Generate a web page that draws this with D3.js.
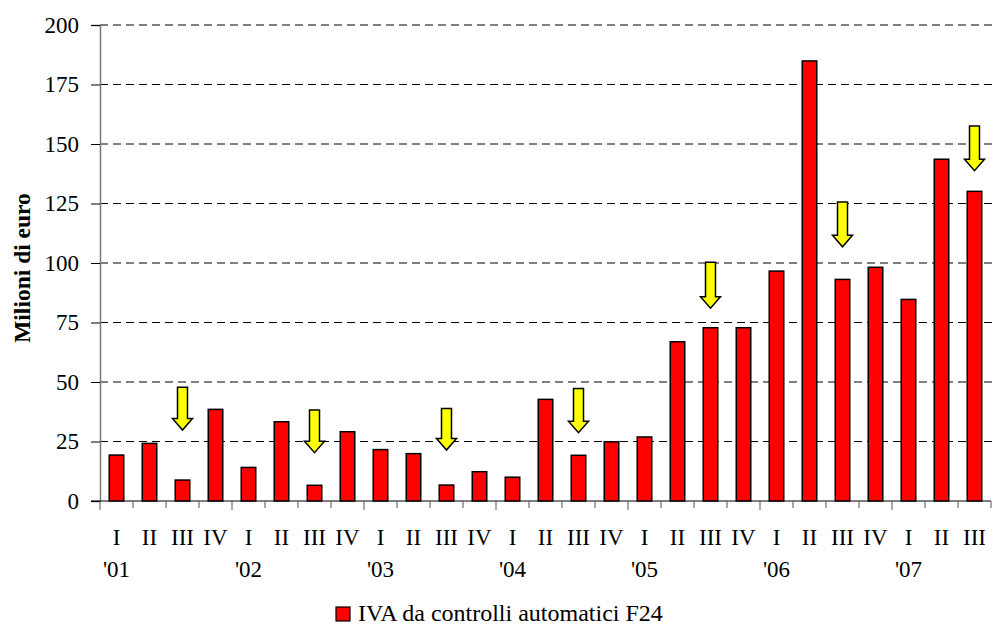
<!DOCTYPE html>
<html>
<head>
<meta charset="utf-8">
<script src="https://cdn.jsdelivr.net/npm/d3@7"></script>
<style>
  body { margin: 0; background: #fff; }
  text { font-family: "Liberation Serif", "Times New Roman", serif; fill: #000; }
</style>
</head>
<body>
<svg id="chart"></svg>
<script>
var w = 993;
var h = 625;

// quarters 2001 Q1 .. 2007 Q3
var quarters = ["I","II","III","IV","I","II","III","IV","I","II","III","IV","I","II","III","IV",
  "I","II","III","IV","I","II","III","IV","I","II","III"];
var years = ["'01","'02","'03","'04","'05","'06","'07"];
var values = [19.3, 24.2, 8.8, 38.5, 14.1, 33.3, 6.6, 29.1, 21.6, 19.9, 6.7, 12.3,
  10, 42.7, 19.2, 24.9, 26.9, 66.9, 72.8, 72.8, 96.6, 184.9, 93.1, 98.2, 84.7, 143.6, 130.1];
var yTicks = [0, 25, 50, 75, 100, 125, 150, 175, 200];

// yellow arrows: category index, top and tip in data units
var arrowIdx = [2, 6, 10, 14, 18, 22, 26];
var arrowTop = [47.8, 38.2, 38.9, 47.3, 100.3, 125.6, 157.6];
var arrowTip = [29.8, 20.3, 21.4, 28.7, 81, 106.8, 138.8];

var legendLabel = "IVA da controlli automatici F24";

var mLeft = 100, mRight = 991, mTop = 25, mBottom = 501;

var svg = d3.select("#chart")
  .attr("width", w)
  .attr("height", h);

var x = d3.scaleBand()
  .domain(d3.range(quarters.length))
  .range([mLeft, mRight])
  .paddingInner(0.56)
  .paddingOuter(0.28);

var y = d3.scaleLinear()
  .domain([0, 200])
  .range([mBottom, mTop]);

var step = x.step();

// dashed grid
svg.selectAll(".grid")
  .data(yTicks.filter(function(d) { return d > 0; }))
  .enter()
  .append("line")
  .attr("x1", mLeft)
  .attr("x2", w)
  .attr("y1", function(d) { return y(d); })
  .attr("y2", function(d) { return y(d); })
  .attr("stroke", "#000")
  .attr("stroke-width", 1)
  .attr("stroke-dasharray", "8,5");

// y axis
var yAxis = d3.axisLeft(y).tickValues(yTicks).tickSize(9).tickPadding(12);
var gy = svg.append("g")
  .attr("transform", "translate(" + mLeft + ",0)")
  .call(yAxis);
gy.select(".domain").attr("stroke", "#777").attr("stroke-width", 1.5);
gy.selectAll(".tick line").attr("stroke", "#000");
gy.selectAll(".tick text")
  .style("font-size", "23px")
  .style("font-family", "'Liberation Serif', serif")
  .attr("fill", "#000");

// x axis line and ticks
svg.append("line")
  .attr("x1", mLeft - 9)
  .attr("x2", mRight)
  .attr("y1", mBottom)
  .attr("y2", mBottom)
  .attr("stroke", "#000")
  .attr("stroke-width", 1.2);

svg.selectAll(".xtick")
  .data(d3.range(quarters.length + 1))
  .enter()
  .append("line")
  .attr("x1", function(d) { return mLeft + d * step; })
  .attr("x2", function(d) { return mLeft + d * step; })
  .attr("y1", mBottom)
  .attr("y2", function(d) { return d % 4 === 0 ? mBottom + 9 : mBottom + 7; })
  .attr("stroke", "#555")
  .attr("stroke-width", 1);

// bars
svg.selectAll(".bar")
  .data(values)
  .enter()
  .append("rect")
  .attr("class", "bar")
  .attr("x", function(d, i) { return x(i); })
  .attr("y", function(d) { return y(d); })
  .attr("width", x.bandwidth())
  .attr("height", function(d) { return y(0) - y(d); })
  .attr("fill", "#ff0000")
  .attr("stroke", "#000")
  .attr("stroke-width", 1.5);

// arrows
svg.selectAll(".arrow")
  .data(arrowIdx)
  .enter()
  .append("path")
  .attr("class", "arrow")
  .attr("d", function(d, i) {
    var cx = x(d) + x.bandwidth() / 2;
    var t = y(arrowTop[i]), p = y(arrowTip[i]), hb = p - 11.5;
    return "M" + (cx - 5) + "," + t + "L" + (cx + 5) + "," + t + "L" + (cx + 5) + "," + hb +
      "L" + (cx + 10) + "," + hb + "L" + cx + "," + p + "L" + (cx - 10) + "," + hb +
      "L" + (cx - 5) + "," + hb + "Z";
  })
  .attr("fill", "#ffff00")
  .attr("stroke", "#000")
  .attr("stroke-width", 1.5)
  .attr("stroke-linejoin", "miter");

// category labels
svg.selectAll(".qlabel")
  .data(quarters)
  .enter()
  .append("text")
  .attr("x", function(d, i) { return x(i) + x.bandwidth() / 2; })
  .attr("y", 545)
  .attr("text-anchor", "middle")
  .style("font-size", "23px")
  .text(function(d) { return d; });

svg.selectAll(".ylabel")
  .data(years)
  .enter()
  .append("text")
  .attr("x", function(d, i) { return x(i * 4) + x.bandwidth() / 2; })
  .attr("y", 577)
  .attr("text-anchor", "middle")
  .style("font-size", "23px")
  .text(function(d) { return d; });

// y title
svg.append("text")
  .attr("transform", "translate(30," + 268 + ") rotate(-90)")
  .attr("text-anchor", "middle")
  .style("font-size", "23.5px")
  .style("font-weight", "bold")
  .text("Milioni di euro");

// legend
svg.append("rect")
  .attr("x", 336)
  .attr("y", 607)
  .attr("width", 14)
  .attr("height", 14)
  .attr("fill", "#ff0000")
  .attr("stroke", "#000")
  .attr("stroke-width", 1.2);

svg.append("text")
  .attr("x", 358)
  .attr("y", 621)
  .style("font-size", "24px")
  .text(legendLabel);
</script>
</body>
</html>
